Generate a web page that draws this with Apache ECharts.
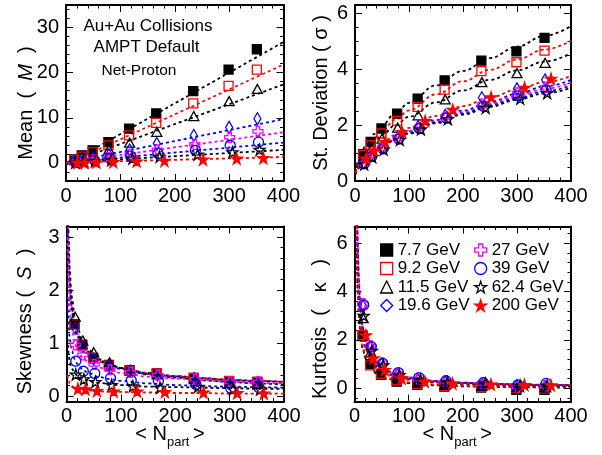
<!DOCTYPE html>
<html><head><meta charset="utf-8">
<script src="https://cdn.jsdelivr.net/npm/echarts@6/dist/echarts.min.js"></script>
<style>html,body{margin:0;padding:0;background:#fff}#c{width:602px;height:455px}</style>
</head><body><div id="c"></div>
<script>
// ---------------- DATA ----------------
const energies = ['7.7 GeV', '9.2 GeV', '11.5 GeV', '19.6 GeV', '27 GeV', '39 GeV', '62.4 GeV', '200 GeV'];
const xTicks = [0, 100, 200, 300, 400];

// <Npart> per centrality bin (central -> peripheral)
const np77  = [351, 299, 234, 166, 116, 78, 49, 29, 15];
const np92  = [351, 299, 234, 166, 116, 78, 49, 29, 15];
const np115 = [352, 300, 235, 167, 117, 79, 50, 30, 16];
const np196 = [352, 300, 235, 167, 117, 79, 50, 30, 16];
const np27  = [353, 301, 237, 168, 118, 80, 51, 30, 16];
const np39  = [354, 302, 238, 169, 119, 81, 52, 31, 17];
const np624 = [356, 306, 242, 172, 122, 83, 53, 32, 17];
const np200 = [363, 314, 252, 181, 130, 87, 56, 35, 21];

// Mean
const mean77  = [25.2, 20.7, 15.9, 11.0, 7.6, 4.6, 2.8, 1.7, 0.8];
const mean92  = [20.7, 17.1, 13.2, 8.9, 6.1, 3.9, 2.4, 1.4, 0.7];
const mean115 = [16.4, 13.7, 10.4, 6.9, 4.5, 3.0, 1.8, 1.1, 0.6];
const mean196 = [9.8, 7.9, 6.1, 4.3, 2.9, 1.8, 1.1, 0.6, 0.3];
const mean27  = [7.0, 5.7, 4.1, 2.9, 1.9, 1.2, 0.75, 0.4, 0.2];
const mean39  = [4.6, 3.9, 2.8, 2.1, 1.5, 1.0, 0.6, 0.35, 0.15];
const mean624 = [2.95, 2.4, 1.9, 1.4, 1.0, 0.65, 0.4, 0.2, 0.1];
const mean200 = [1.1, 0.97, 0.75, 0.5, 0.35, 0.22, 0.13, 0.08, 0.04];

// Standard deviation
const sd77  = [5.12, 4.64, 4.31, 3.6, 2.95, 2.41, 1.88, 1.4, 0.96];
const sd92  = [4.67, 4.25, 3.93, 3.27, 2.65, 2.15, 1.70, 1.28, 0.93];
const sd115 = [4.23, 3.86, 3.54, 2.92, 2.35, 1.91, 1.52, 1.16, 0.87];
const sd196 = [3.62, 3.3, 2.98, 2.35, 1.95, 1.55, 1.2, 0.92, 0.65];
const sd27  = [3.35, 3.15, 2.75, 2.28, 1.9, 1.52, 1.17, 0.9, 0.63];
const sd39  = [3.25, 3.05, 2.68, 2.25, 1.88, 1.5, 1.15, 0.88, 0.62];
const sd624 = [3.15, 2.95, 2.62, 2.22, 1.85, 1.48, 1.13, 0.86, 0.6];
const sd200 = [3.66, 3.34, 3.0, 2.55, 2.15, 1.76, 1.4, 1.1, 0.81];

// Skewness
const sk77  = [0.27, 0.28, 0.33, 0.43, 0.49, 0.59, 0.72, 0.97, 1.36];
const sk92  = [0.27, 0.29, 0.35, 0.43, 0.48, 0.58, 0.72, 0.96, 1.35];
const sk115 = [0.24, 0.25, 0.32, 0.41, 0.49, 0.64, 0.83, 1.05, 1.5];
const sk196 = [0.26, 0.25, 0.33, 0.4, 0.47, 0.57, 0.7, 0.93, 1.28];
const sk27  = [0.27, 0.27, 0.32, 0.4, 0.45, 0.5, 0.6, 0.78, 0.97];
const sk39  = [0.16, 0.15, 0.22, 0.29, 0.3, 0.34, 0.43, 0.47, 0.66];
const sk624 = [0.13, 0.13, 0.18, 0.16, 0.19, 0.21, 0.27, 0.32, 0.41];
const sk200 = [0.05, 0.06, 0.07, 0.08, 0.09, 0.09, 0.1, 0.13, 0.14];

// Kurtosis
const ku77  = [-0.07, -0.07, 0.03, 0.07, 0.14, 0.27, 0.55, 1.0, 2.16];
const ku92  = [-0.02, 0.0, 0.05, 0.1, 0.18, 0.33, 0.6, 0.95, 2.2];
const ku115 = [0.05, 0.05, 0.1, 0.15, 0.25, 0.45, 0.85, 1.5, 2.9];
const ku196 = [0.08, 0.1, 0.18, 0.25, 0.35, 0.55, 1.0, 1.7, 3.4];
const ku27  = [0.1, 0.05, 0.2, 0.28, 0.38, 0.6, 1.05, 1.75, 3.5];
const ku39  = [0.2, 0.14, 0.23, 0.31, 0.44, 0.65, 1.03, 1.72, 3.45];
const ku624 = [0.1, 0.1, 0.2, 0.25, 0.35, 0.55, 0.95, 1.55, 3.0];
const ku200 = [0.12, 0.14, 0.16, 0.2, 0.27, 0.41, 0.76, 1.24, 2.2];

// Fit curves
const meanFitX = [0, 400];
const meanFit77  = [-0.4, 26.8];
const meanFit92  = [-0.3, 21.8];
const meanFit115 = [-0.2, 17.4];
const meanFit196 = [0.0, 9.7];
const meanFit27  = [0.1, 6.8];
const meanFit39  = [0.1, 4.5];
const meanFit624 = [0.1, 2.9];
const meanFit200 = [0.1, 1.3];

const sdFitX = [1, 5, 10, 20, 35, 50, 75, 100, 150, 200, 250, 300, 350, 400];
const sdFit77  = [0.33, 0.66, 0.92, 1.28, 1.68, 2.0, 2.43, 2.8, 3.42, 3.94, 4.4, 4.81, 5.19, 5.55];
const sdFit92  = [0.3, 0.6, 0.83, 1.16, 1.52, 1.81, 2.2, 2.53, 3.1, 3.57, 3.98, 4.35, 4.7, 5.02];
const sdFit115 = [0.27, 0.54, 0.76, 1.05, 1.38, 1.65, 2.0, 2.3, 2.81, 3.24, 3.62, 3.96, 4.27, 4.57];
const sdFit196 = [0.25, 0.45, 0.6, 0.82, 1.08, 1.28, 1.55, 1.78, 2.18, 2.52, 2.83, 3.12, 3.38, 3.62];
const sdFit27  = [0.25, 0.44, 0.59, 0.8, 1.06, 1.26, 1.53, 1.75, 2.14, 2.47, 2.77, 3.04, 3.29, 3.52];
const sdFit39  = [0.25, 0.43, 0.58, 0.79, 1.04, 1.24, 1.5, 1.72, 2.1, 2.42, 2.71, 2.97, 3.2, 3.42];
const sdFit624 = [0.25, 0.43, 0.57, 0.78, 1.03, 1.22, 1.48, 1.7, 2.07, 2.38, 2.66, 2.91, 3.13, 3.34];
const sdFit200 = [0.27, 0.48, 0.64, 0.87, 1.14, 1.36, 1.65, 1.9, 2.33, 2.68, 2.99, 3.27, 3.53, 3.76];

const skFitX = [2, 3, 4, 6, 8, 10, 15, 20, 30, 40, 60, 80, 100, 150, 200, 250, 300, 350, 400];
const skFit77  = [3.71, 3.03, 2.63, 2.15, 1.86, 1.67, 1.36, 1.18, 0.96, 0.84, 0.68, 0.59, 0.53, 0.44, 0.38, 0.34, 0.31, 0.29, 0.27];
const skFit92  = [3.67, 3.0, 2.6, 2.13, 1.84, 1.65, 1.35, 1.17, 0.95, 0.83, 0.68, 0.59, 0.53, 0.44, 0.38, 0.34, 0.31, 0.29, 0.27];
const skFit115 = [4.27, 3.47, 2.99, 2.42, 2.09, 1.86, 1.5, 1.29, 1.03, 0.88, 0.7, 0.6, 0.53, 0.41, 0.35, 0.3, 0.27, 0.24, 0.22];
const skFit196 = [3.48, 2.85, 2.47, 2.02, 1.75, 1.57, 1.29, 1.12, 0.91, 0.79, 0.65, 0.57, 0.51, 0.42, 0.37, 0.33, 0.3, 0.28, 0.27];
const skFit27  = [3.0, 2.5, 2.1, 1.65, 1.4, 1.25, 1.02, 0.88, 0.73, 0.64, 0.54, 0.48, 0.44, 0.37, 0.33, 0.3, 0.27, 0.25, 0.24];
const skFit39  = [1.86, 1.53, 1.33, 1.09, 0.95, 0.85, 0.7, 0.61, 0.5, 0.44, 0.36, 0.32, 0.29, 0.24, 0.21, 0.19, 0.18, 0.17, 0.16];
const skFit624 = [1.08, 0.89, 0.78, 0.65, 0.57, 0.52, 0.43, 0.39, 0.33, 0.29, 0.25, 0.23, 0.21, 0.18, 0.17, 0.16, 0.15, 0.14, 0.14];
const skFit200 = [0.4, 0.33, 0.29, 0.24, 0.21, 0.19, 0.16, 0.14, 0.12, 0.11, 0.09, 0.08, 0.08, 0.07, 0.06, 0.06, 0.05, 0.05, 0.05];

const kuFitX = [3, 4, 5, 6, 8, 10, 15, 20, 30, 40, 60, 80, 100, 150, 200, 250, 300, 350, 400];
const kuFit77  = [7.5, 5.8, 4.7, 3.95, 3.0, 2.45, 1.65, 1.25, 0.85, 0.62, 0.4, 0.28, 0.21, 0.12, 0.08, 0.05, 0.04, 0.03, 0.02];
const kuFit92  = [7.8, 6.0, 4.9, 4.1, 3.1, 2.55, 1.72, 1.3, 0.88, 0.66, 0.43, 0.31, 0.24, 0.15, 0.1, 0.07, 0.06, 0.05, 0.04];
const kuFit115 = [9.5, 7.3, 5.9, 4.95, 3.8, 3.1, 2.15, 1.65, 1.14, 0.87, 0.59, 0.45, 0.36, 0.24, 0.18, 0.14, 0.12, 0.1, 0.09];
const kuFit196 = [11, 8.5, 6.8, 5.7, 4.4, 3.6, 2.5, 1.95, 1.35, 1.02, 0.7, 0.53, 0.43, 0.29, 0.22, 0.18, 0.15, 0.13, 0.12];
const kuFit27  = [11.3, 8.7, 7.0, 5.85, 4.5, 3.7, 2.55, 2.0, 1.38, 1.05, 0.72, 0.55, 0.45, 0.3, 0.23, 0.19, 0.16, 0.14, 0.13];
const kuFit39  = [11.2, 8.6, 6.9, 5.8, 4.45, 3.65, 2.52, 1.97, 1.36, 1.04, 0.71, 0.54, 0.44, 0.3, 0.23, 0.19, 0.16, 0.14, 0.13];
const kuFit624 = [10, 7.7, 6.2, 5.2, 4.0, 3.3, 2.28, 1.77, 1.22, 0.93, 0.63, 0.48, 0.39, 0.26, 0.2, 0.16, 0.14, 0.12, 0.11];
const kuFit200 = [9, 7, 5.7, 4.8, 3.7, 3.0, 2.1, 1.65, 1.15, 0.88, 0.6, 0.46, 0.37, 0.26, 0.2, 0.17, 0.15, 0.13, 0.12];

// ---------------- STYLE / LAYOUT ----------------
const FONT = '"Liberation Sans", Arial, Helvetica, sans-serif';
const STAR = 'path://M50,0 L61.2,34.5 L97.6,34.5 L68.2,55.9 L79.4,90.5 L50,69.1 L20.6,90.5 L31.8,55.9 L2.4,34.5 L38.8,34.5 Z';
const PLUS = 'path://M33,0 L67,0 L67,33 L100,33 L100,67 L67,67 L67,100 L33,100 L33,67 L0,67 L0,33 L33,33 Z';
const NOFILL = 'rgba(0,0,0,0)';
const markers = [
  {symbol: 'rect', size: 9, fill: '#000', stroke: '#000'},
  {symbol: 'rect', size: 9, fill: NOFILL, stroke: '#ff0000'},
  {symbol: 'triangle', size: [10, 9], fill: NOFILL, stroke: '#000'},
  {symbol: 'diamond', size: [7, 12], fill: NOFILL, stroke: '#0000ff'},
  {symbol: PLUS, size: 10, fill: NOFILL, stroke: '#ff00ff'},
  {symbol: 'circle', size: 10, fill: NOFILL, stroke: '#0000ff'},
  {symbol: STAR, size: 11, fill: NOFILL, stroke: '#000'},
  {symbol: STAR, size: 11, fill: '#ff0000', stroke: '#ff0000'}
];

const nparts = [np77, np92, np115, np196, np27, np39, np624, np200];
const panelVals = [
  [mean77, mean92, mean115, mean196, mean27, mean39, mean624, mean200],
  [sd77, sd92, sd115, sd196, sd27, sd39, sd624, sd200],
  [sk77, sk92, sk115, sk196, sk27, sk39, sk624, sk200],
  [ku77, ku92, ku115, ku196, ku27, ku39, ku624, ku200]
];
const fitXs = [meanFitX, sdFitX, skFitX, kuFitX];
const fitVals = [
  [meanFit77, meanFit92, meanFit115, meanFit196, meanFit27, meanFit39, meanFit624, meanFit200],
  [sdFit77, sdFit92, sdFit115, sdFit196, sdFit27, sdFit39, sdFit624, sdFit200],
  [skFit77, skFit92, skFit115, skFit196, skFit27, skFit39, skFit624, skFit200],
  [kuFit77, kuFit92, kuFit115, kuFit196, kuFit27, kuFit39, kuFit624, kuFit200]
];

const grids = [
  {left: 66, top: 5, width: 217.5, height: 176},
  {left: 355, top: 5, width: 216, height: 176},
  {left: 66.5, top: 226.5, width: 217.5, height: 175},
  {left: 354.5, top: 226.5, width: 216.5, height: 175}
];
const yRange = [[-4, 35], [0, 6.3], [-0.1, 3.2], [-0.55, 6.7]];
const ySplit = [5, 3, 3, 4];
const yStep = [10, 2, 1, 2];
const yMinor = [5, 4, 5, 5];

const tickStyle = {show: true, inside: true, length: 7, lineStyle: {color: '#000', width: 1}};
const axisLineStyle = {show: true, onZero: false, lineStyle: {color: '#000', width: 2}};

const xAxis = [], yAxis = [];
grids.forEach((g, p) => {
  [false, true].forEach(top => {
    xAxis.push({
      type: 'value', gridIndex: p, min: xTicks[0], max: xTicks[xTicks.length - 1], interval: xTicks[1] - xTicks[0],
      position: top ? 'top' : 'bottom',
      axisLine: axisLineStyle, axisTick: tickStyle,
      minorTick: {show: true, splitNumber: 5, length: 3.5, lineStyle: {color: '#000', width: 1}},
      splitLine: {show: false},
      axisLabel: {show: !top, fontSize: 20, fontFamily: FONT, color: '#000', margin: 5}
    });
    const step = yStep[p];
    yAxis.push({
      type: 'value', gridIndex: p, min: yRange[p][0], max: yRange[p][1], splitNumber: ySplit[p],
      position: top ? 'right' : 'left',
      axisLine: axisLineStyle, axisTick: tickStyle,
      minorTick: {show: true, splitNumber: yMinor[p], length: 3.5, lineStyle: {color: '#000', width: 1}},
      splitLine: {show: false},
      axisLabel: {show: !top, fontSize: 20, fontFamily: FONT, color: '#000', margin: 7,
        formatter: v => { const r = v / step; return Math.abs(r - Math.round(r)) < 1e-6 ? String(Math.round(r) * step) : ''; }}
    });
  });
});

const series = [];
for (let p = 0; p < 4; p++) {
  for (let e = 0; e < 8; e++) {
    const m = markers[e];
    series.push({
      type: 'line', name: energies[e] + ' fit', xAxisIndex: 2 * p, yAxisIndex: 2 * p,
      data: fitXs[p].map((x, i) => [x, fitVals[p][e][i]]),
      showSymbol: false, smooth: p > 0 ? 0.4 : false, smoothMonotone: 'x', silent: true, z: 2,
      lineStyle: {color: m.stroke, width: 1.8, type: [3, 3]}
    });
  }
  for (let e = 0; e < 8; e++) {
    const m = markers[e];
    series.push({
      type: 'scatter', name: energies[e], xAxisIndex: 2 * p, yAxisIndex: 2 * p,
      data: nparts[e].map((x, i) => [x, panelVals[p][e][i]]),
      symbol: m.symbol, symbolSize: m.size, z: 3, silent: true,
      itemStyle: {color: m.fill, borderColor: m.stroke, borderWidth: 1.3, opacity: 1}
    });
  }
}

function txt(x, y, text, size, extra) {
  return Object.assign({type: 'text', x: x, y: y, silent: true,
    style: Object.assign({text: text, fontSize: size, fontFamily: FONT, fill: '#000',
      align: 'center', verticalAlign: 'middle', textAlign: 'center', textVerticalAlign: 'middle'}, (extra && extra.style) || {})},
    extra && extra.rotation ? {rotation: extra.rotation} : {});
}
const R = Math.PI / 2;
const ital = {i: {fontStyle: 'italic', fontSize: 20, fontFamily: FONT}};
const graphic = [
  txt(148, 26, 'Au+Au Collisions', 17),
  txt(146.5, 47.5, 'AMPT Default', 17),
  txt(139, 71, 'Net-Proton', 15.5),
  txt(26, 103, 'Mean  (  {i|M}  )', 20, {rotation: R, style: {rich: ital}}),
  txt(321, 93, 'St. Deviation ( σ )', 20, {rotation: R}),
  txt(25, 321.5, 'Skewness (  {i|S}  )', 20, {rotation: R, style: {rich: ital}}),
  txt(320, 329, 'Kurtosis  (   κ   )', 20, {rotation: R}),
  // x titles
  {type: 'text', x: 167, y: 434.7, silent: true, style: {text: '< N', fontSize: 20, fontFamily: FONT, fill: '#000', align: 'right', verticalAlign: 'middle', textAlign: 'right', textVerticalAlign: 'middle'}},
  {type: 'text', x: 167, y: 442.5, silent: true, style: {text: 'part', fontSize: 13, fontFamily: FONT, fill: '#000', align: 'left', verticalAlign: 'middle', textAlign: 'left', textVerticalAlign: 'middle'}},
  {type: 'text', x: 193, y: 434.7, silent: true, style: {text: '>', fontSize: 20, fontFamily: FONT, fill: '#000', align: 'left', verticalAlign: 'middle', textAlign: 'left', textVerticalAlign: 'middle'}},
  {type: 'text', x: 454.3, y: 434.7, silent: true, style: {text: '< N', fontSize: 20, fontFamily: FONT, fill: '#000', align: 'right', verticalAlign: 'middle', textAlign: 'right', textVerticalAlign: 'middle'}},
  {type: 'text', x: 454.3, y: 442.5, silent: true, style: {text: 'part', fontSize: 13, fontFamily: FONT, fill: '#000', align: 'left', verticalAlign: 'middle', textAlign: 'left', textVerticalAlign: 'middle'}},
  {type: 'text', x: 480.3, y: 434.7, silent: true, style: {text: '>', fontSize: 20, fontFamily: FONT, fill: '#000', align: 'left', verticalAlign: 'middle', textAlign: 'left', textVerticalAlign: 'middle'}}
];

const legendBase = {orient: 'vertical', top: 241, padding: 0, itemGap: 0.5, itemWidth: 12, itemHeight: 12,
  selectedMode: false, textStyle: {fontSize: 17, fontFamily: FONT, color: '#000', lineHeight: 18},
  itemStyle: {borderWidth: 1.3}};

const option = {
  animation: false,
  backgroundColor: '#fff',
  grid: grids.map(g => Object.assign({containLabel: false, outerBoundsMode: 'none', show: false}, g)),
  xAxis: xAxis,
  yAxis: yAxis,
  legend: [
    Object.assign({left: 380, data: energies.slice(0, 4)}, legendBase),
    Object.assign({left: 474, data: energies.slice(4)}, legendBase)
  ],
  graphic: graphic,
  series: series
};
const chart = echarts.init(document.getElementById('c'), null, {renderer: 'canvas'});
chart.setOption(option);
</script></body></html>
